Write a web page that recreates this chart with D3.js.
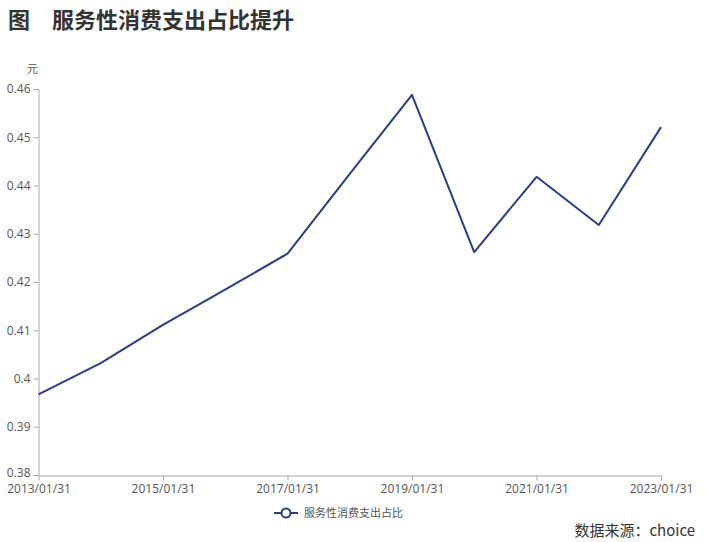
<!DOCTYPE html>
<html>
<head>
<meta charset="utf-8">
<script src="https://cdn.jsdelivr.net/npm/d3@7"></script>
<style>
  body { margin: 0; background: #fff; }
  svg { display: block; }
  text { font-family: "Noto Sans CJK SC", "Noto Sans", sans-serif; }
</style>
</head>
<body>
<div id="chart"></div>
<script>
// data
var dates = ["2013/01/31", "2014/01/31", "2015/01/31", "2016/01/31", "2017/01/31", "2018/01/31",
             "2019/01/31", "2020/01/31", "2021/01/31", "2022/01/31", "2023/01/31"];
var shares = [0.3967, 0.4032, 0.4111, 0.4184, 0.4259, 0.4424, 0.4588, 0.4262, 0.4418, 0.4318, 0.4521];
var yTicks = [0.38, 0.39, 0.40, 0.41, 0.42, 0.43, 0.44, 0.45, 0.46];
var seriesName = "服务性消费支出占比";

var width = 717, height = 542;
var parse = d3.timeParse("%Y/%m/%d");
var fmt = d3.timeFormat("%Y/%m/%d");

var svg = d3.select("#chart").append("svg")
    .attr("width", width)
    .attr("height", height);

// title
svg.append("text")
    .attr("x", 8).attr("y", 28)
    .attr("font-size", 22).attr("font-weight", "bold").attr("fill", "#333")
    .text("图");
svg.append("text")
    .attr("x", 52).attr("y", 28)
    .attr("font-size", 22).attr("font-weight", "bold").attr("fill", "#333")
    .text("服务性消费支出占比提升");

var x = d3.scaleTime()
    .domain([parse(dates[0]), parse(dates[dates.length - 1])])
    .range([38.5, 661]);
var y = d3.scaleLinear()
    .domain([0.38, 0.46])
    .range([475, 89]);

var pts = dates.map(function(d, i) { return {date: parse(d), v: shares[i]}; });

// y axis
var yAxis = svg.append("g")
    .attr("transform", "translate(38.5,0)")
    .call(d3.axisLeft(y).tickValues(yTicks).tickSize(5).tickPadding(3)
        .tickFormat(function(d) { return d3.format("")(+d.toFixed(2)); }));
yAxis.select(".domain").attr("stroke", "#aaa");
yAxis.selectAll(".tick line").attr("stroke", "#aaa");
yAxis.selectAll(".tick text").attr("fill", "#555").attr("font-size", 12)
    .style("font-family", "'Open Sans', 'Noto Sans', sans-serif");
// bottom label sits a touch higher so it clears the date under it
yAxis.selectAll(".tick text").filter(function(d) { return d === 0.38; }).attr("dy", "0.1em");

svg.append("text")
    .attr("x", 38).attr("y", 73)
    .attr("text-anchor", "end")
    .attr("font-size", 11).attr("fill", "#555")
    .text("元");

// x axis
var xAxis = svg.append("g")
    .attr("transform", "translate(0,475.5)")
    .call(d3.axisBottom(x)
        .tickValues(pts.filter(function(d, i) { return i % 2 === 0; }).map(function(d) { return d.date; }))
        .tickSize(5).tickSizeOuter(0).tickPadding(4)
        .tickFormat(fmt));
xAxis.select(".domain").attr("stroke", "#aaa");
xAxis.selectAll(".tick line").attr("stroke", "#aaa");
xAxis.selectAll(".tick text").attr("fill", "#555").attr("font-size", 12)
    .style("font-family", "'Open Sans', 'Noto Sans', sans-serif");

// line
var line = d3.line()
    .x(function(d) { return x(d.date); })
    .y(function(d) { return y(d.v); });

svg.append("path")
    .datum(pts)
    .attr("fill", "none")
    .attr("stroke", "#2b3d8a")
    .attr("stroke-width", 2)
    .attr("stroke-linejoin", "round")
    .attr("d", line);

// legend
var lg = svg.append("g").attr("transform", "translate(274,513)");
lg.append("line").attr("x1", 0).attr("x2", 24).attr("y1", 0).attr("y2", 0)
    .attr("stroke", "#2b3d8a").attr("stroke-width", 2);
lg.append("circle").attr("cx", 12).attr("cy", 0).attr("r", 4.5)
    .attr("fill", "#fff").attr("stroke", "#2b3d8a").attr("stroke-width", 2);
lg.append("text").attr("x", 30).attr("y", 4)
    .attr("font-size", 11).attr("fill", "#555")
    .text(seriesName);

// source
svg.append("text")
    .attr("x", 695).attr("y", 536)
    .attr("text-anchor", "end")
    .attr("font-size", 15).attr("fill", "#333")
    .text("数据来源：choice");
</script>
</body>
</html>
